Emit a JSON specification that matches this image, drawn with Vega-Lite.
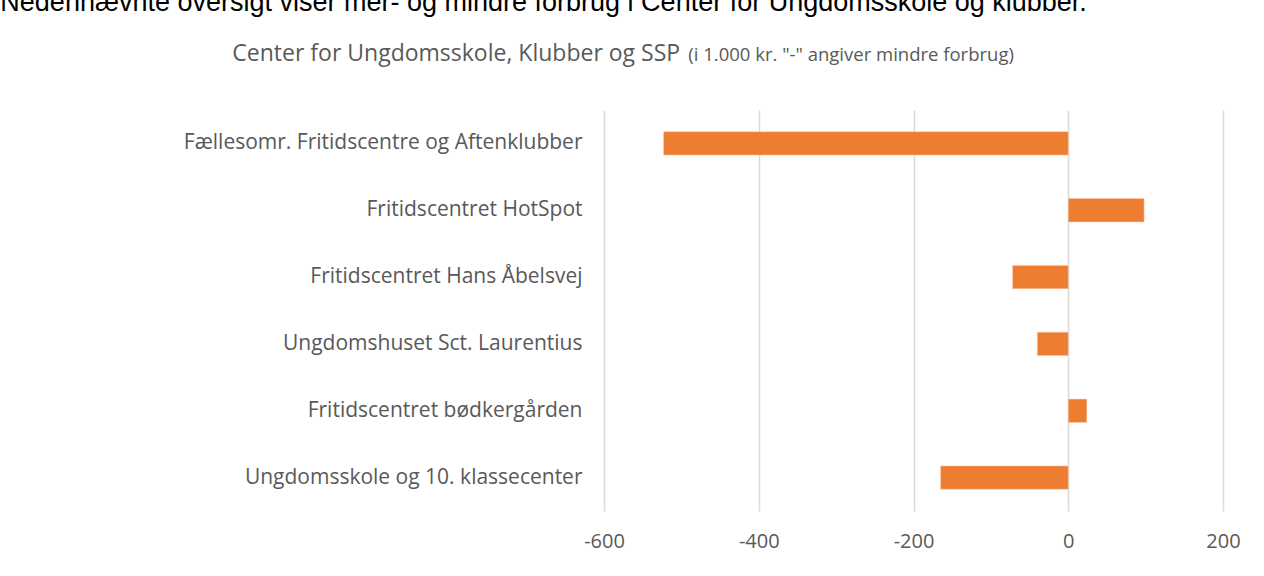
{
  "$schema": "https://vega.github.io/schema/vega-lite/v6.json",
  "padding": {"left": 0, "top": -12, "right": 0, "bottom": 24},
  "background": "white",
  "title": {
    "text": "Nedenhævnte oversigt viser mer- og mindre forbrug i Center for Ungdomsskole og klubber.",
    "anchor": "start", "frame": "bounds", "font": "Liberation Sans", "fontSize": 27,
    "fontWeight": "normal", "color": "#000000", "dx": -183, "offset": 26
  },
  "vconcat": [
    {
      "title": {
        "text": "Center for Ungdomsskole, Klubber og SSP",
        "anchor": "start", "frame": "bounds", "font": "Open Sans", "fontSize": 23,
        "fontWeight": "normal", "color": "#595959", "dx": 49, "dy": 20, "offset": 0
      },
      "vconcat": [
        {
          "width": 619,
          "height": 401,
          "title": {
            "text": "(i 1.000 kr. \"-\" angiver mindre forbrug)",
            "anchor": "start", "frame": "bounds", "font": "Open Sans", "fontSize": 18.5,
            "fontWeight": "normal", "color": "#595959", "dx": 505, "offset": 46
          },
          "data": {
            "values": [
              {"enhed": "Fællesomr. Fritidscentre og Aftenklubber", "beloeb": -523},
              {"enhed": "Fritidscentret HotSpot", "beloeb": 98},
              {"enhed": "Fritidscentret Hans Åbelsvej", "beloeb": -72},
              {"enhed": "Ungdomshuset Sct. Laurentius", "beloeb": -40},
              {"enhed": "Fritidscentret bødkergården", "beloeb": 24},
              {"enhed": "Ungdomsskole og 10. klassecenter", "beloeb": -165}
            ]
          },
          "mark": {"type": "bar", "color": "#ED7D31", "stroke": "#F8CBAD", "strokeWidth": 0.6},
          "encoding": {
            "y": {
              "field": "enhed", "type": "nominal", "sort": null,
              "scale": {"paddingInner": 0.65, "paddingOuter": 0.325},
              "axis": {
                "title": null, "domain": false, "ticks": false, "labelPadding": 22,
                "labelFontSize": 21, "labelFont": "Open Sans", "labelColor": "#595959", "labelLimit": 600
              }
            },
            "x": {
              "field": "beloeb", "type": "quantitative",
              "scale": {"domain": [-600, 200], "nice": false, "zero": false},
              "axis": {
                "title": null, "values": [-600, -400, -200, 0, 200], "domain": false, "ticks": false,
                "grid": true, "gridColor": "#D9D9D9", "gridWidth": 1.5, "labelPadding": 20,
                "labelFlush": false, "labelOverlap": false,
                "labelFontSize": 20, "labelFont": "Open Sans", "labelColor": "#595959",
                "labelExpr": "'' + datum.value"
              }
            }
          }
        }
      ]
    }
  ],
  "config": {"view": {"stroke": null}}
}
